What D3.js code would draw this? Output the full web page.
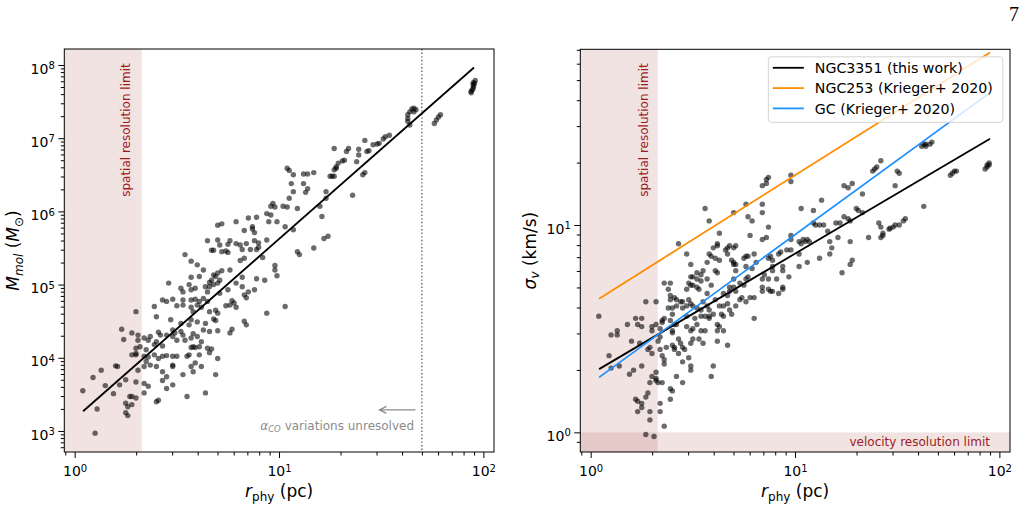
<!DOCTYPE html>
<html>
<head>
<meta charset="utf-8">
<script src="https://cdn.jsdelivr.net/npm/d3@7"></script>
<style>
  body { margin: 0; background: #fff; overflow: hidden; }
  svg { font-family: "DejaVu Sans", sans-serif; display: block; }
  .axis line { stroke: #000; }
  .axis text { font-size: 14px; fill: #000; font-family: "DejaVu Sans", sans-serif; }
</style>
</head>
<body>
<div id="chart"></div>
<script>
// ---- data (log10 values) ----
// left panel: [log r_phy (pc), log M_mol (Msun)]
var massClouds = [
  [1.42,6.97],[1.46,6.91],[1.48,6.92],[1.49,6.93],[1.43,6.82],[1.44,6.83],[1.39,6.85],[1.34,6.86],[1.33,6.82],[1.27,6.86],
  [1.39,6.77],[1.38,6.68],[1.32,6.70],[1.31,6.69],[1.29,6.66],[1.28,6.61],[1.27,6.57],[1.28,6.59],[1.26,6.48],[1.25,6.48],
  [1.27,6.48],[1.42,6.53],[1.41,6.50],[1.04,6.59],[1.05,6.56],[1.07,6.50],[1.12,6.51],[1.14,6.51],[1.17,6.53],[1.06,6.38],
  [1.12,6.38],[1.14,6.31],[1.13,6.26],[1.07,6.27],[1.23,6.27],[1.23,6.18],[1.36,6.22],[1.05,6.18],[0.97,6.11],[0.96,6.07],
  [0.98,6.06],[1.02,6.07],[1.04,6.06],[1.09,6.04],[0.94,5.97],[0.96,5.95],[1.20,6.07],[1.21,5.93],[0.85,5.91],[0.89,5.92],
  [1.22,5.63],[1.24,5.66],[1.17,5.50],
  [1.63,7.27],[1.63,7.32],[1.64,7.36],[1.65,7.40],[1.66,7.41],[1.67,7.39],[1.66,7.36],[1.64,7.18],[1.63,7.23],[1.77,7.25],
  [1.78,7.29],[1.79,7.32],[1.76,7.20],[1.94,7.64],[1.95,7.68],[1.95,7.73],[1.95,7.76],[1.96,7.79],[1.94,7.62],[1.945,7.66],
  [1.952,7.71],[1.957,7.75],[1.54,7.04],[1.52,7.02],[1.51,6.99],
  [0.70,5.81],[0.72,5.83],[0.79,5.86],[0.87,5.79],[0.87,5.76],[0.88,5.71],[0.95,5.86],[0.99,5.86],[1.03,5.79],[1.07,5.75],
  [0.83,5.74],[0.65,5.60],[0.70,5.61],[0.71,5.54],[0.75,5.55],[0.76,5.60],[0.79,5.56],[0.81,5.54],[0.84,5.56],[0.88,5.60],
  [0.90,5.57],[0.94,5.61],[0.90,5.51],[0.86,5.48],[0.89,5.48],[0.82,5.48],[0.67,5.47],[0.68,5.47],[0.72,5.45],[0.74,5.46],
  [0.75,5.44],[1.09,5.45],[1.10,5.41],[0.54,5.41],[0.57,5.32],[0.60,5.27],[0.63,5.20],[0.83,5.36],[0.81,5.33],[0.92,5.37],
  [0.98,5.26],[0.98,5.20],[0.99,5.12],[0.93,5.06],[0.89,5.08],[0.82,5.10],[0.76,5.20],[0.72,5.19],[0.70,5.16],[0.69,5.11],
  [0.68,5.13],[0.66,5.03],[0.67,5.06],[0.71,5.06],[0.70,5.02],[0.57,5.10],[0.61,5.11],[0.56,5.00],[0.57,4.93],[0.59,4.95],
  [0.52,4.95],[0.53,4.90],[0.46,5.02],[0.64,4.97],[0.65,4.90],[0.66,4.97],[0.68,5.00],[0.71,4.88],[0.75,4.93],[0.79,5.02],
  [0.82,4.97],[0.85,4.90],[0.88,4.93],[0.84,4.82],[0.83,4.86],[0.78,4.75],[0.76,4.72],[0.79,4.69],[0.77,4.78],[0.74,4.71],
  [1.03,4.70],[0.94,4.61],[0.83,4.50],[0.84,4.45],[0.43,4.79],[0.45,4.77],[0.48,4.80],[0.53,4.79],[0.57,4.79],[0.59,4.80],
  [0.61,4.77],[0.63,4.81],[0.65,4.77],[0.53,4.72],[0.50,4.71],[0.57,4.69],[0.60,4.72],[0.62,4.69],[0.58,4.63],[0.66,4.63],
  [0.69,4.65],[0.70,4.61],[0.68,4.53],[0.69,4.51],[0.39,4.70],[0.40,4.56],[0.47,4.52],[0.52,4.47],[0.56,4.45],[0.57,4.52],
  [0.60,4.49],[0.64,4.47],[0.63,4.38],[0.66,4.36],[0.70,4.37],[0.77,4.39],[0.76,4.34],[0.31,4.31],[0.34,4.27],[0.36,4.24],
  [0.37,4.29],[0.41,4.35],[0.42,4.31],[0.40,4.22],[0.45,4.31],[0.48,4.38],[0.49,4.34],[0.48,4.29],[0.52,4.36],[0.53,4.31],
  [0.54,4.24],[0.58,4.33],[0.60,4.29],[0.62,4.22],[0.57,4.27],[0.31,4.24],[0.30,4.13],[0.32,4.15],[0.35,4.11],[0.39,4.18],
  [0.43,4.16],[0.50,4.24],[0.57,4.14],[0.59,4.14],[0.58,4.15],[0.61,4.15],[0.65,4.13],[0.67,4.12],[0.66,4.07],[0.61,4.04],
  [0.56,4.04],[0.55,4.02],[0.70,3.99],[0.28,4.04],[0.30,4.04],[0.34,4.02],[0.36,4.01],[0.39,4.04],[0.41,3.99],[0.43,4.02],
  [0.45,4.03],[0.48,4.02],[0.50,4.02],[0.35,3.95],[0.37,3.90],[0.40,3.88],[0.34,3.88],[0.31,3.83],[0.43,3.81],[0.45,3.74],
  [0.48,3.88],[0.48,3.90],[0.57,3.88],[0.59,3.93],[0.62,3.88],[0.58,3.81],[0.53,3.77],[0.69,3.77],[0.30,3.67],[0.34,3.65],
  [0.36,3.61],[0.34,3.52],[0.43,3.69],[0.48,3.63],[0.45,3.58],[0.64,3.52],[0.55,3.47],[0.40,3.40],[0.41,3.42],[0.30,4.63],
  [0.28,4.34],[0.30,4.06],[0.28,3.47],[0.30,3.45],[0.28,3.36],
  [0.04,3.55],[0.09,3.73],[0.13,3.83],[0.11,3.30],[0.10,2.97],[0.15,3.62],[0.19,3.51],[0.20,3.89],[0.21,3.88],[0.22,3.63],
  [0.23,4.39],[0.24,4.25],[0.25,3.70],[0.25,3.38],[0.25,3.25],[0.26,3.21],[0.26,3.33],[0.27,3.47]
];

// right panel: [log r_phy (pc), log sigma_v (km/s)]
var sigmaClouds = [
  [0.63,0.96],[0.78,0.95],[0.43,0.91],[0.47,0.86],[0.62,0.90],[0.62,0.91],[0.60,0.89],[0.58,0.86],[0.59,0.85],[0.61,0.84],
  [0.63,0.83],[0.66,0.88],[0.67,0.89],[0.68,0.90],[0.70,0.89],[0.71,0.90],[0.67,0.86],[0.69,0.83],[0.70,0.82],[0.70,0.81],
  [0.71,0.81],[0.75,0.84],[0.76,0.85],[0.77,0.85],[0.80,0.86],[0.76,0.80],[0.79,0.79],[0.81,0.82],[0.57,0.82],[0.55,0.78],
  [0.52,0.77],[0.54,0.76],[0.50,0.75],[0.49,0.75],[0.52,0.74],[0.54,0.73],[0.49,0.81],[0.49,0.71],[0.48,0.72],[0.47,0.69],
  [0.50,0.71],[0.52,0.70],[0.53,0.69],[0.57,0.74],[0.61,0.78],[0.62,0.77],[0.59,0.71],[0.57,0.67],[0.61,0.64],[0.65,0.67],
  [0.67,0.66],[0.68,0.68],[0.70,0.70],[0.71,0.68],[0.73,0.72],[0.75,0.71],[0.76,0.74],[0.77,0.75],[0.71,0.78],[0.70,0.74],
  [0.68,0.70],[0.67,0.62],[0.65,0.61],[0.63,0.61],[0.64,0.57],[0.65,0.56],[0.68,0.59],[0.69,0.57],[0.71,0.61],[0.73,0.64],
  [0.74,0.65],[0.76,0.63],[0.78,0.65],[0.80,0.65],[0.80,0.55],[0.55,0.63],[0.57,0.61],[0.58,0.59],[0.58,0.55],[0.58,0.56],
  [0.60,0.57],[0.62,0.52],[0.63,0.51],[0.62,0.49],[0.65,0.49],[0.62,0.44],[0.67,0.42],
  [0.36,0.72],[0.39,0.72],[0.38,0.69],[0.39,0.66],[0.39,0.64],[0.41,0.65],[0.42,0.64],[0.44,0.63],[0.42,0.61],[0.40,0.60],
  [0.38,0.60],[0.45,0.63],[0.45,0.60],[0.48,0.64],[0.47,0.61],[0.49,0.62],[0.50,0.61],[0.52,0.60],[0.54,0.59],[0.54,0.56],
  [0.56,0.56],[0.51,0.55],[0.47,0.56],[0.47,0.51],[0.49,0.49],[0.50,0.50],[0.52,0.52],[0.54,0.49],[0.56,0.49],[0.55,0.43],
  [0.53,0.45],[0.50,0.45],[0.49,0.43],[0.46,0.40],[0.44,0.43],[0.43,0.45],[0.41,0.41],[0.40,0.48],[0.41,0.52],[0.42,0.52],
  [0.40,0.49],[0.39,0.54],[0.40,0.57],[0.36,0.55],[0.35,0.54],[0.35,0.53],[0.32,0.63],[0.27,0.63],[0.22,0.55],[0.25,0.55],
  [0.23,0.52],[0.25,0.51],[0.18,0.52],[0.13,0.49],[0.10,0.47],[0.13,0.47],[0.04,0.56],[0.20,0.44],[0.24,0.43],[0.30,0.51],
  [0.30,0.49],[0.32,0.52],[0.34,0.50],[0.34,0.46],[0.33,0.44],[0.29,0.41],[0.28,0.40],[0.30,0.38],[0.34,0.40],[0.35,0.37],
  [0.36,0.35],[0.36,0.33],[0.40,0.42],[0.41,0.40],[0.43,0.38],[0.45,0.34],[0.48,0.36],[0.49,0.32],[0.45,0.41],[0.37,0.41],
  [0.09,0.37],[0.14,0.32],[0.10,0.31],[0.25,0.32],[0.21,0.30],[0.19,0.28],[0.30,0.27],[0.32,0.26],[0.32,0.25],[0.29,0.24],
  [0.33,0.24],[0.35,0.24],[0.32,0.29],[0.42,0.27],[0.45,0.24],[0.49,0.30],[0.59,0.27],[0.60,0.32],[0.39,0.21],[0.40,0.20],
  [0.39,0.16],[0.28,0.19],[0.27,0.17],[0.22,0.16],[0.23,0.15],[0.25,0.14],[0.25,0.12],[0.23,0.10],[0.29,0.10],[0.34,0.14],
  [0.34,0.10],[0.29,0.06],[0.36,0.03],[0.27,-0.01],[0.31,-0.02],
  [0.87,1.23],[0.86,1.22],[0.86,1.20],[0.84,1.19],[0.98,1.24],[0.98,1.21],[0.76,1.10],[0.84,1.10],[0.84,1.06],[0.77,1.04],
  [0.79,1.02],[1.03,1.08],[1.09,1.07],[1.13,1.12],[0.87,0.99],[0.84,0.93],[0.86,0.94],[0.98,0.95],[0.98,0.93],[1.09,1.01],
  [1.10,1.00],[1.12,1.00],[1.14,1.00],[1.16,0.97],[1.20,1.01],[1.22,1.01],[1.17,0.92],[1.21,0.94],[1.24,1.04],[1.26,1.03],
  [1.27,1.02],[1.30,1.08],[1.31,1.07],[1.33,1.06],[1.24,1.19],[1.26,1.18],[1.28,1.20],[1.33,1.15],[1.38,1.26],[1.39,1.27],
  [1.40,1.28],[1.42,1.31],[1.51,1.25],[1.50,1.26],[1.49,1.19],[1.42,0.99],[1.41,1.01],[1.42,0.94],[1.43,0.95],[1.43,0.96],
  [1.46,0.98],[1.465,0.985],[1.48,0.99],[1.49,1.00],[1.51,1.00],[1.53,1.02],[1.54,1.03],[1.36,0.94],[1.27,0.92],[1.06,0.93],
  [1.05,0.92],[1.04,0.93],[1.03,0.91],[1.02,0.92],[1.07,0.92],[1.02,0.86],[0.96,0.88],[0.98,0.88],[0.93,0.87],[0.92,0.86],
  [0.88,0.85],[0.87,0.84],[0.89,0.83],[0.89,0.80],[0.94,0.80],[0.94,0.78],[1.02,0.80],[1.06,0.82],[1.12,0.84],[1.17,0.86],
  [1.18,0.89],[1.27,0.81],[1.28,0.83],[1.23,0.77],[0.97,0.75],[0.94,0.69],[0.92,0.67],[0.89,0.68],[0.88,0.68],[0.87,0.69],
  [0.84,0.70],[0.84,0.68],[0.84,0.74],[0.94,0.70],[0.85,0.76],[0.89,0.78],[0.87,0.74],[0.91,0.74],
  [0.56,1.08],[0.58,1.02],[0.70,1.06],
  [1.62,1.38],[1.63,1.39],[1.64,1.39],[1.66,1.39],[1.67,1.40],[1.64,1.38],[1.76,1.24],[1.77,1.25],[1.78,1.26],[1.79,1.26],
  [1.93,1.27],[1.94,1.28],[1.94,1.29],[1.95,1.29],[1.95,1.30],[1.63,1.09]
];

// power-law fits: y = coef * r^slope, drawn over the cloud size range
var fitRange = [1.1, 90];
var massFit = { coef: 1472, slope: 2.455 };
var sigmaFitNames = ["NGC3351 (this work)", "NGC253 (Krieger+ 2020)", "GC (Krieger+ 2020)"];
var sigmaFitCoef = [1.91, 4.16, 1.72];
var sigmaFitSlope = [0.581, 0.621, 0.718];
var sigmaFitColors = ["#000000", "#ff8c00", "#1e90ff"];

// limits and axis ranges
var spatialLimit = 2.13;   // pc
var velocityLimit = 1.0;   // km/s
var alphaCOLimit = 50;     // pc
var rDomain = [0.89, 112.7];
var massDomain = [516, 1.655e8];
var sigmaDomain = [0.804, 70.4];

var rMajor = [1, 10, 100];
var rMinor = [0.9, 2, 3, 4, 5, 6, 7, 8, 9, 20, 30, 40, 50, 60, 70, 80, 90];
var massMajor = [1e3, 1e4, 1e5, 1e6, 1e7, 1e8];
var sigmaMajor = [1, 10];

function minorTicks(domain) {
  var out = [];
  for (var e = 0; e <= 9; e++) {
    for (var k = 2; k <= 9; k++) {
      var v = k * Math.pow(10, e);
      if (v >= domain[0] && v <= domain[1]) out.push(v);
    }
  }
  return out;
}

var svg = d3.select("#chart").append("svg")
  .attr("width", 1026)
  .attr("height", 532);

var shadeColor = "#8b0000",
    labelRed = "#9b1c1c",
    labelSize = "17px",
    subSize = "12px";

function powTen(g) {
  g.selectAll(".tick text").each(function(d) {
    var e = Math.round(Math.log10(d));
    var t = d3.select(this);
    t.text("10");
    t.append("tspan").attr("dy", "-0.45em").attr("font-size", "10px").text(e);
  });
}

function panel(box, yDomain, yMajor, yMinor) {
  var g = svg.append("g").attr("transform", "translate(" + box.x + "," + box.y + ")");
  var x = d3.scaleLog().domain(rDomain).range([0, box.w]);
  var y = d3.scaleLog().domain(yDomain).range([box.h, 0]);

  g.append("clipPath").attr("id", box.id)
    .append("rect").attr("width", box.w).attr("height", box.h);

  // x axis
  g.append("g").attr("class", "axis")
    .attr("transform", "translate(0," + box.h + ")")
    .call(d3.axisBottom(x).tickValues(rMinor).tickSize(3.5).tickFormat(""))
    .call(function(s) { s.select(".domain").remove(); });
  g.append("g").attr("class", "axis")
    .attr("transform", "translate(0," + box.h + ")")
    .call(d3.axisBottom(x).tickValues(rMajor).tickSize(6).tickPadding(8.5).tickFormat(function(d) { return d; }))
    .call(function(s) { s.select(".domain").remove(); })
    .call(powTen);

  // y axis
  g.append("g").attr("class", "axis")
    .call(d3.axisLeft(y).tickValues(yMinor).tickSize(3.5).tickFormat(""))
    .call(function(s) { s.select(".domain").remove(); });
  g.append("g").attr("class", "axis")
    .call(d3.axisLeft(y).tickValues(yMajor).tickSize(6).tickPadding(3.5).tickFormat(function(d) { return d; }))
    .call(function(s) { s.select(".domain").remove(); })
    .call(powTen)
    .selectAll(".tick text").attr("dy", "0.58em");

  var plot = g.append("g").attr("clip-path", "url(#" + box.id + ")");
  return { g: g, plot: plot, x: x, y: y, w: box.w, h: box.h };
}

function xLabel(p) {
  var t = p.g.append("text")
    .attr("x", p.w / 2).attr("y", 448)
    .attr("text-anchor", "middle").attr("font-size", labelSize);
  t.append("tspan").attr("font-style", "italic").text("r");
  t.append("tspan").attr("font-size", subSize).attr("dy", "3.5").text("phy");
  t.append("tspan").attr("dy", "-3.5").text(" (pc)");
}

// ---------------- left panel ----------------
var L = panel({ id: "clipL", x: 64.3, y: 49, w: 429.7, h: 403 }, massDomain, massMajor, minorTicks(massDomain));

L.plot.append("rect")
  .attr("x", 0).attr("y", 0)
  .attr("width", L.x(spatialLimit)).attr("height", L.h)
  .attr("fill", shadeColor).attr("fill-opacity", 0.11);

L.plot.append("line")
  .attr("x1", L.x(alphaCOLimit)).attr("x2", L.x(alphaCOLimit))
  .attr("y1", 0).attr("y2", L.h)
  .attr("stroke", "#666").attr("stroke-width", 1.4)
  .attr("stroke-dasharray", "1.4,2.2");

L.plot.selectAll(".dot")
  .data(massClouds).enter().append("circle")
  .attr("class", "dot")
  .attr("cx", function(d) { return L.x(Math.pow(10, d[0])); })
  .attr("cy", function(d) { return L.y(Math.pow(10, d[1])); })
  .attr("r", 2.7)
  .attr("fill", "#000")
  .attr("fill-opacity", 0.58);

L.plot.append("line")
  .attr("x1", L.x(fitRange[0])).attr("y1", L.y(massFit.coef * Math.pow(fitRange[0], massFit.slope)))
  .attr("x2", L.x(fitRange[1])).attr("y2", L.y(massFit.coef * Math.pow(fitRange[1], massFit.slope)))
  .attr("stroke", "#000").attr("stroke-width", 1.8);

// arrow + alpha_CO note
var arrowY = L.y(1940);
L.g.append("path")
  .attr("d", "M" + L.x(46.5) + "," + arrowY + "H" + (L.x(31) + 1) +
             "M" + (L.x(31) + 7) + "," + (arrowY - 3.5) + "L" + L.x(31) + "," + arrowY +
             "L" + (L.x(31) + 7) + "," + (arrowY + 3.5))
  .attr("fill", "none").attr("stroke", "#8c8c8c").attr("stroke-width", 1.3);

var note = L.g.append("text")
  .attr("x", L.x(45.8)).attr("y", L.y(1030))
  .attr("text-anchor", "end")
  .attr("font-size", "12px")
  .attr("fill", "#8c8c8c");
note.append("tspan").attr("font-style", "italic").text("α");
note.append("tspan").attr("font-style", "italic").attr("font-size", "8.5px").attr("dy", "2").text("CO");
note.append("tspan").attr("dy", "-2").text(" variations unresolved");

L.g.append("text")
  .attr("transform", "translate(" + (L.x(spatialLimit) - 11.3) + ",14.3) rotate(-90)")
  .attr("text-anchor", "end")
  .attr("font-size", "12px")
  .attr("fill", labelRed)
  .text("spatial resolution limit");

L.g.append("rect")
  .attr("width", L.w).attr("height", L.h)
  .attr("fill", "none").attr("stroke", "#000").attr("stroke-width", 1);

xLabel(L);

var yl = svg.append("text")
  .attr("transform", "translate(19," + (49 + 201.5) + ") rotate(-90)")
  .attr("text-anchor", "middle").attr("font-size", labelSize);
yl.append("tspan").attr("font-style", "italic").text("M");
yl.append("tspan").attr("font-style", "italic").attr("font-size", subSize).attr("dy", "3.5").text("mol");
yl.append("tspan").attr("dy", "-3.5").text(" (");
yl.append("tspan").attr("font-style", "italic").text("M");
yl.append("tspan").attr("font-size", subSize).attr("dy", "3.5").text("⊙");
yl.append("tspan").attr("dy", "-3.5").text(")");

// ---------------- right panel ----------------
var R = panel({ id: "clipR", x: 580.3, y: 49.3, w: 429.7, h: 402.7 }, sigmaDomain, sigmaMajor,
  [0.9].concat(minorTicks(sigmaDomain)));

R.plot.append("rect")
  .attr("x", 0).attr("y", 0)
  .attr("width", R.x(spatialLimit)).attr("height", R.h)
  .attr("fill", shadeColor).attr("fill-opacity", 0.11);
R.plot.append("rect")
  .attr("x", 0).attr("y", R.y(velocityLimit))
  .attr("width", R.w).attr("height", R.h - R.y(velocityLimit))
  .attr("fill", shadeColor).attr("fill-opacity", 0.11);

R.plot.selectAll(".dot")
  .data(sigmaClouds).enter().append("circle")
  .attr("class", "dot")
  .attr("cx", function(d) { return R.x(Math.pow(10, d[0])); })
  .attr("cy", function(d) { return R.y(Math.pow(10, d[1])); })
  .attr("r", 2.7)
  .attr("fill", "#000")
  .attr("fill-opacity", 0.58);

R.plot.selectAll(".fit")
  .data(sigmaFitNames).enter().append("line")
  .attr("class", "fit")
  .attr("x1", R.x(fitRange[0]))
  .attr("y1", function(d, i) { return R.y(sigmaFitCoef[i] * Math.pow(fitRange[0], sigmaFitSlope[i])); })
  .attr("x2", R.x(fitRange[1]))
  .attr("y2", function(d, i) { return R.y(sigmaFitCoef[i] * Math.pow(fitRange[1], sigmaFitSlope[i])); })
  .attr("stroke", function(d, i) { return sigmaFitColors[i]; })
  .attr("stroke-width", 1.8);

R.g.append("text")
  .attr("transform", "translate(" + (R.x(spatialLimit) - 10) + ",14) rotate(-90)")
  .attr("text-anchor", "end")
  .attr("font-size", "12px")
  .attr("fill", labelRed)
  .text("spatial resolution limit");

R.g.append("text")
  .attr("x", R.w - 20).attr("y", R.y(velocityLimit) + 13.5)
  .attr("text-anchor", "end")
  .attr("font-size", "12px")
  .attr("fill", labelRed)
  .text("velocity resolution limit");

R.g.append("rect")
  .attr("width", R.w).attr("height", R.h)
  .attr("fill", "none").attr("stroke", "#000").attr("stroke-width", 1);

// legend
var leg = R.g.append("g").attr("transform", "translate(188,7.5)");
leg.append("rect")
  .attr("width", 234.5).attr("height", 65.5).attr("rx", 3)
  .attr("fill", "#fff").attr("fill-opacity", 0.8)
  .attr("stroke", "#d4d4d4").attr("stroke-width", 1);
var items = leg.selectAll(".item").data(sigmaFitNames).enter().append("g")
  .attr("class", "item")
  .attr("transform", function(d, i) { return "translate(0," + (11 + i * 20.3) + ")"; });
items.append("line")
  .attr("x1", 4.5).attr("x2", 35.5)
  .attr("stroke", function(d, i) { return sigmaFitColors[i]; })
  .attr("stroke-width", 1.8);
items.append("text")
  .attr("x", 46.5).attr("dy", "0.36em")
  .attr("font-size", "14.2px")
  .text(function(d) { return d; });

xLabel(R);

var yr = svg.append("text")
  .attr("transform", "translate(535.5," + (49.3 + 201.3) + ") rotate(-90)")
  .attr("text-anchor", "middle").attr("font-size", labelSize);
yr.append("tspan").attr("font-style", "italic").text("σ");
yr.append("tspan").attr("font-style", "italic").attr("font-size", subSize).attr("dy", "3.5").text("v");
yr.append("tspan").attr("dy", "-3.5").text(" (km/s)");

// page number
svg.append("text")
  .attr("x", 1019).attr("y", 20.7)
  .attr("text-anchor", "end")
  .attr("font-family", "Liberation Serif, serif")
  .attr("font-size", "20px")
  .text("7");
</script>
</body>
</html>
